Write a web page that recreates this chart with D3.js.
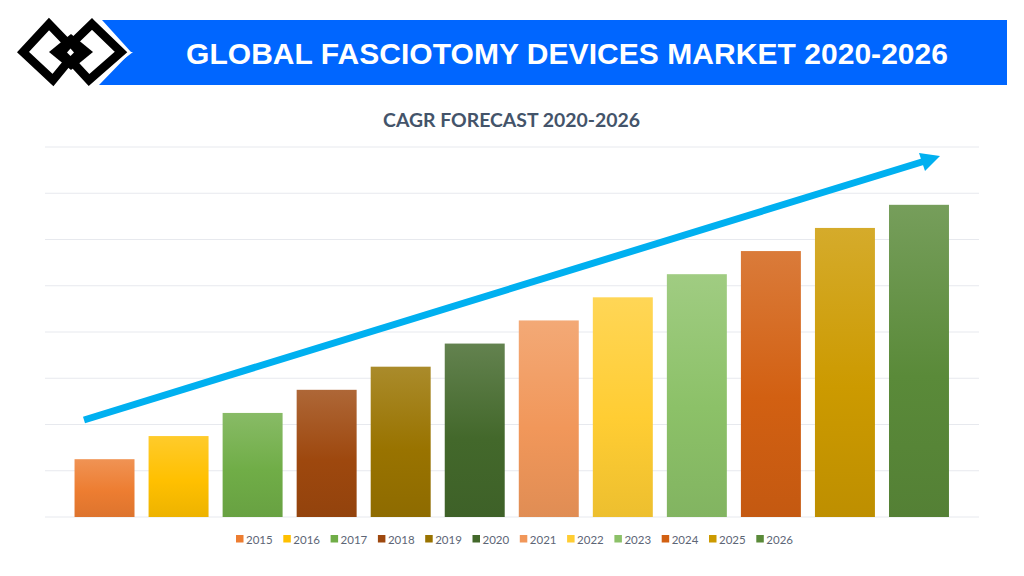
<!DOCTYPE html>
<html>
<head>
<meta charset="utf-8">
<script src="https://cdn.jsdelivr.net/npm/d3@7"></script>
<style>
  html, body { margin: 0; background: #fff; }
  svg { display: block; }
</style>
</head>
<body>
<svg id="chart" width="1024" height="576"></svg>
<script>
// Bar heights read off the gridlines (the axis has no labels)
var data = [
  { year: "2015", value: 1.25, color: "#ED7D31" },
  { year: "2016", value: 1.75, color: "#FFC000" },
  { year: "2017", value: 2.25, color: "#70AD47" },
  { year: "2018", value: 2.75, color: "#9E480E" },
  { year: "2019", value: 3.25, color: "#997300" },
  { year: "2020", value: 3.75, color: "#43682B" },
  { year: "2021", value: 4.25, color: "#F1975A" },
  { year: "2022", value: 4.75, color: "#FFCD33" },
  { year: "2023", value: 5.25, color: "#8CC168" },
  { year: "2024", value: 5.75, color: "#D26012" },
  { year: "2025", value: 6.25, color: "#CC9A00" },
  { year: "2026", value: 6.75, color: "#5A8A39" }
];

var svg = d3.select("#chart");

var x = d3.scaleBand()
  .domain(data.map(d => d.year))
  .range([67.5, 956])
  .paddingInner(0.19)
  .paddingOuter(0.095);

var y = d3.scaleLinear().domain([0, 8]).range([517, 147]);

// Gradient for each bar: lighter top, darker bottom
var defs = svg.append("defs");
data.forEach((d, i) => {
  var grad = defs.append("linearGradient")
    .attr("id", "bar" + i)
    .attr("x1", 0).attr("x2", 0).attr("y1", 0).attr("y2", 1);
  grad.append("stop").attr("offset", "0%")
    .attr("stop-color", d3.interpolateRgb(d.color, "#fff")(0.17));
  grad.append("stop").attr("offset", "55%").attr("stop-color", d.color);
  grad.append("stop").attr("offset", "100%")
    .attr("stop-color", d3.color(d.color).darker(0.2));
});

// Header banner
svg.append("polygon")
  .attr("points", "102,20 1007,20 1007,85 99,85 131,52")
  .attr("fill", "#0066FF");

svg.append("text")
  .attr("x", 567).attr("y", 64)
  .attr("text-anchor", "middle")
  .attr("font-family", "Liberation Sans")
  .attr("font-weight", "bold")
  .attr("font-size", 30)
  .attr("textLength", 762)
  .attr("fill", "#fff")
  .text("GLOBAL FASCIOTOMY DEVICES MARKET 2020-2026");

// Logo: two interlocked diamonds
var logo = svg.append("g");
logo.append("polygon")
  .attr("points", "126,52 92,19 49,52 89,86 133,52")
  .attr("fill", "#fff");
logo.selectAll("polygon.ring")
  .data(["49,24 76,52 53,80 23,52", "92,24 121,52 89,80 63,52"])
  .join("polygon")
  .attr("class", "ring")
  .attr("points", d => d)
  .attr("fill", "none")
  .attr("stroke", "#000")
  .attr("stroke-width", 8.5);
logo.append("polygon")
  .attr("points", "71,34 93,52 71,70 49,52")
  .attr("fill", "#000");
logo.append("polygon")
  .attr("points", "70.5,48.5 74,52.5 70.5,56 67,52.5")
  .attr("fill", "#fff");

// Chart title
svg.append("text")
  .attr("x", 511.5).attr("y", 127)
  .attr("text-anchor", "middle")
  .attr("font-family", "Lato")
  .attr("font-weight", "bold")
  .attr("font-size", 19.4)
  .attr("fill", "#44546A")
  .text("CAGR FORECAST 2020-2026");

// Gridlines
svg.append("g")
  .selectAll("line")
  .data(y.ticks(8))
  .join("line")
  .attr("x1", 45).attr("x2", 979)
  .attr("y1", d => y(d)).attr("y2", d => y(d))
  .attr("stroke", "#E7E9EE")
  .attr("stroke-width", 1);

// Bars
svg.append("g")
  .selectAll("rect")
  .data(data)
  .join("rect")
  .attr("x", d => x(d.year))
  .attr("y", d => y(d.value))
  .attr("width", x.bandwidth())
  .attr("height", d => y(0) - y(d.value))
  .attr("fill", (d, i) => "url(#bar" + i + ")");

// Trend arrow
svg.append("line")
  .attr("x1", 84).attr("y1", 420)
  .attr("x2", 925).attr("y2", 161)
  .attr("stroke", "#00B0F0")
  .attr("stroke-width", 7);
svg.append("polygon")
  .attr("points", "940,156 919,153 925,171")
  .attr("fill", "#00B0F0");

// Legend
var legend = svg.append("g")
  .selectAll("g")
  .data(data)
  .join("g")
  .attr("transform", (d, i) => "translate(" + (236 + i * 47.3) + ",535)");

legend.append("rect")
  .attr("width", 7.5).attr("height", 7.5)
  .attr("fill", d => d.color);

legend.append("text")
  .attr("x", 10).attr("y", 8.5)
  .attr("font-family", "Lato")
  .attr("font-size", 11.5)
  .attr("fill", "#5D6676")
  .text(d => d.year);
</script>
</body>
</html>
